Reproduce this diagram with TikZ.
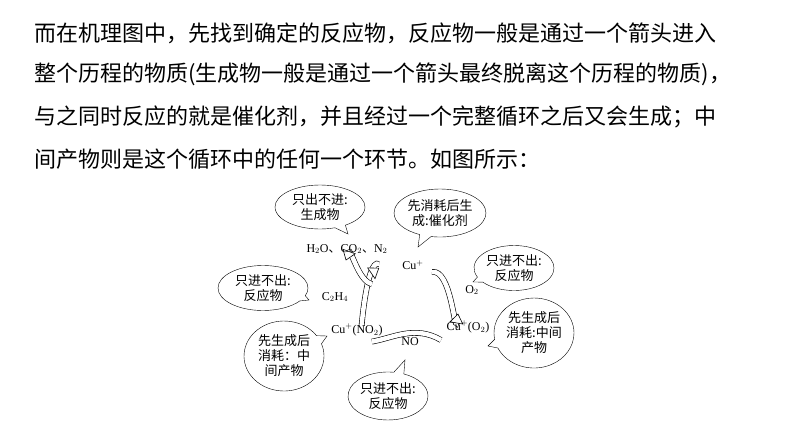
\documentclass[tikz,border=0pt]{standalone}
\usepackage{fontspec}
\setmainfont{Liberation Serif}
\newfontfamily\cjk{Noto Sans CJK SC}
\usetikzlibrary{shapes.callouts,arrows.meta,positioning,decorations.markings}
\begin{document}
\begin{tikzpicture}[x=1pt,y=-1pt,
  line_style/.style={anchor=west,font=\cjk\fontsize{22}{26}\selectfont,inner sep=0pt},
  bubble_style/.style={ellipse callout,draw=black,thin,fill=white,align=center,
    font=\cjk\fontsize{13}{15}\selectfont,inner sep=0pt},
  chem_style/.style={font=\fontsize{12}{14}\selectfont,inner sep=1pt},
  fat_shaft/.style={line width=0.6pt,double=white,double distance=4.5pt,shorten >=8pt},
  fat_head/.style={decorate,decoration={markings,mark=at position 1 with
    {\draw[fill=white,line width=0.6pt] (-9pt,6.5pt)--(0pt,0pt)--(-9pt,-6.5pt)--cycle;}}}]
  \useasboundingbox (0,0) rectangle (794,447);
  % paragraph
  \node (t1) [line_style] at (34,33) {而在机理图中，先找到确定的反应物，反应物一般是通过一个箭头进入};
  \node (t2) [line_style] at (34,74) {整个历程的物质(生成物一般是通过一个箭头最终脱离这个历程的物质)，};
  \node (t3) [line_style] at (34,117) {与之同时反应的就是催化剂，并且经过一个完整循环之后又会生成；中};
  \node (t4) [line_style] at (34,159) {间产物则是这个循环中的任何一个环节。如图所示：};
  % cycle arrows
  \coordinate (a1s) at (432,272); \coordinate (a1e) at (458,314);
  \coordinate (a2s) at (441,340); \coordinate (a2e) at (364,343);
  \coordinate (a3s) at (362,322); \coordinate (a3e) at (386,268);
  \coordinate (a4s) at (372,284); \coordinate (a4e) at (346,260);
  \foreach \s/\e/\a/\b in {a1s/a1e/10/-100, a2s/a2e/150/10, a3s/a3e/-95/150, a4s/a4e/170/70} {
    \draw [fat_shaft] (\s) to[out=\a,in=\b] (\e);
    \path [fat_head] (\s) to[out=\a,in=\b] (\e);
  }
  % species
  \node (prod) [chem_style] at (347,249) {H$_2$O{\cjk 、}CO$_2${\cjk 、}N$_2$};
  \node (cu) [chem_style] at (413,265) {Cu$^+$};
  \node (o2) [chem_style] at (472,290) {O$_2$};
  \node (cuo) [chem_style] at (468,327) {Cu$^+$(O$_2$)};
  \node (no) [chem_style] at (410,342) {NO};
  \node (cun) [chem_style] at (357,330) {Cu$^+$(NO$_2$)};
  \node (ch) [chem_style] at (335,297) {C$_2$H$_4$};
  % bubbles
  \node (b1) [bubble_style,minimum width=90pt,minimum height=44pt,callout absolute pointer={(348,234)}] at (320,207) {只出不进:\\生成物};
  \node (b2) [bubble_style,minimum width=90pt,minimum height=48pt,callout absolute pointer={(418,247)}] at (440,213) {先消耗后生\\成:催化剂};
  \node (b3) [bubble_style,minimum width=80pt,minimum height=45pt,callout absolute pointer={(473,282)}] at (514,268) {只进不出:\\反应物};
  \node (b4) [bubble_style,minimum width=80pt,minimum height=70pt,callout absolute pointer={(488,346)}] at (534,333) {先生成后\\消耗:中间\\产物};
  \node (b5) [bubble_style,minimum width=90pt,minimum height=45pt,callout absolute pointer={(309,300)}] at (263,288) {只进不出:\\反应物};
  \node (b6) [bubble_style,minimum width=80pt,minimum height=70pt,callout absolute pointer={(327,336)}] at (284,356) {先生成后\\消耗：中\\间产物};
  \node (b7) [bubble_style,minimum width=80pt,minimum height=48pt,callout absolute pointer={(405,360)}] at (388,396) {只进不出:\\反应物};
\end{tikzpicture}
\end{document}
